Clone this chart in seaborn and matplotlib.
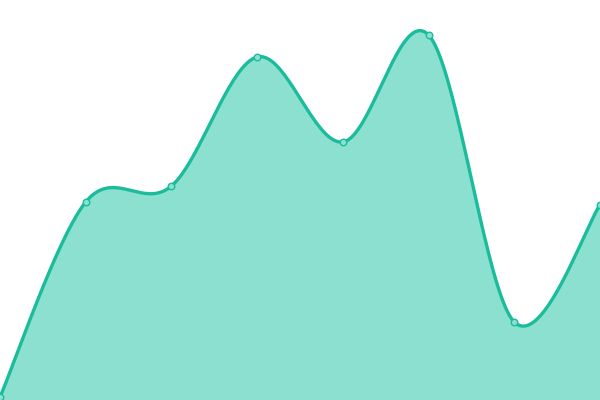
import numpy as np
import pandas as pd
import matplotlib
matplotlib.use("Agg")
import matplotlib.pyplot as plt
import seaborn as sns

# Data
x_idx = [0, 1, 2, 3, 4, 5, 6, 7]
values = [3, 198, 214, 343, 258, 365, 78, 195]

LINE = "#1abc9c"
FILL = "#8be0cf"


def catmull_rom(xs, ys, steps=40):
    xs = np.asarray(xs, float)
    ys = np.asarray(ys, float)
    px = np.concatenate([[xs[0]], xs, [xs[-1]]])
    py = np.concatenate([[ys[0]], ys, [ys[-1]]])
    out_x, out_y = [], []
    for i in range(1, len(px) - 2):
        t = np.linspace(0, 1, steps, endpoint=False)
        for p, out in ((px, out_x), (py, out_y)):
            p0, p1, p2, p3 = p[i - 1], p[i], p[i + 1], p[i + 2]
            out.extend(0.5 * ((2 * p1) + (-p0 + p2) * t
                              + (2 * p0 - 5 * p1 + 4 * p2 - p3) * t ** 2
                              + (-p0 + 3 * p1 - 3 * p2 + p3) * t ** 3))
    out_x.append(xs[-1])
    out_y.append(ys[-1])
    return np.array(out_x), np.array(out_y)


sns.set_theme(style="white")

df = pd.DataFrame({"x": x_idx, "y": values})
sx, sy = catmull_rom(df["x"], df["y"])
curve = pd.DataFrame({"x": sx, "y": sy})

fig = plt.figure(figsize=(6, 4), dpi=100)
ax = fig.add_axes([0, 0, 1, 1])

ax.fill_between(curve["x"], curve["y"], 0, color=FILL, linewidth=0)
sns.lineplot(data=curve, x="x", y="y", sort=False, color=LINE, linewidth=2.4, ax=ax)
sns.scatterplot(data=df, x="x", y="y", s=22, color=FILL, edgecolor=LINE,
                linewidth=1.0, ax=ax, zorder=5, clip_on=False)

ax.set_xlim(0, 7)
ax.set_ylim(0, 400)
ax.axis("off")

fig.savefig("out.png", dpi=100)
